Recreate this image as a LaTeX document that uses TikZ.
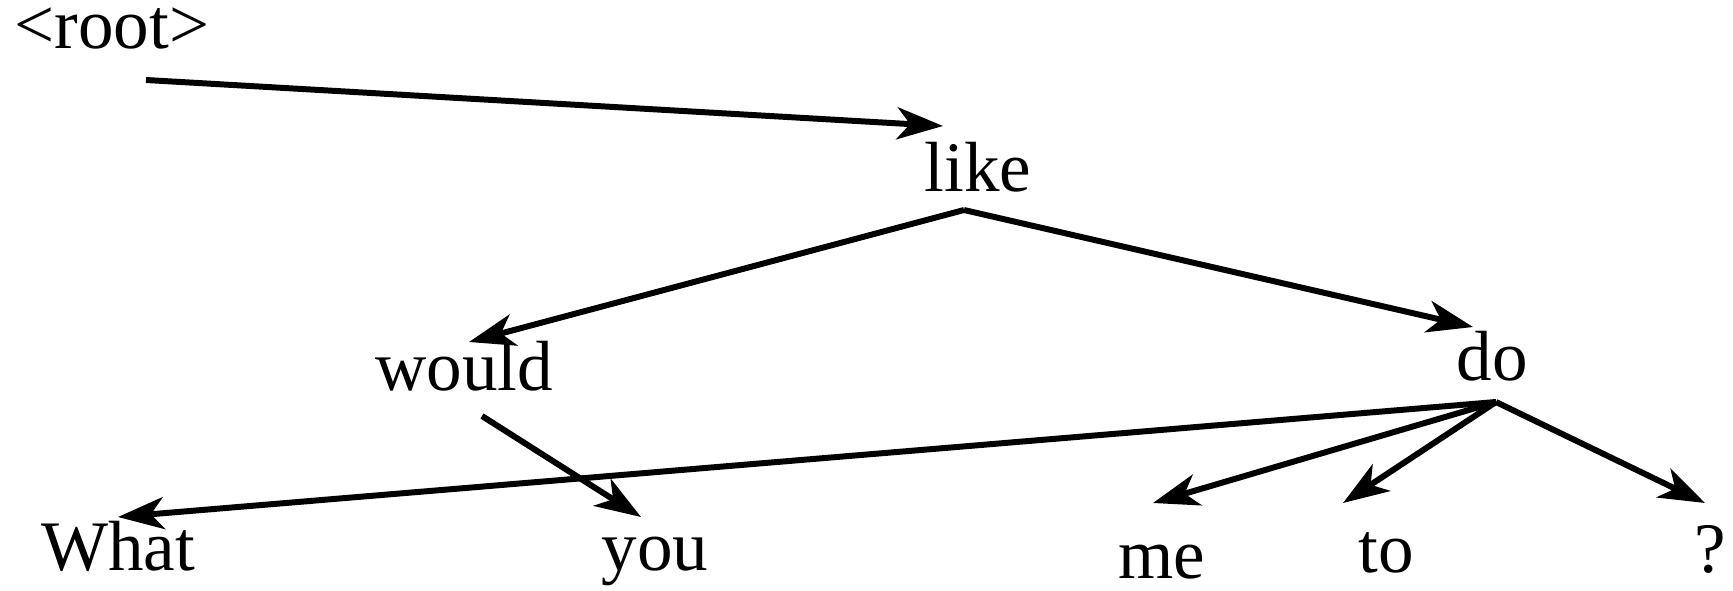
\documentclass[tikz,border=0pt]{standalone}
\usepackage{fontspec}
\setmainfont{Liberation Serif}
\usetikzlibrary{arrows.meta}
\begin{document}
\begin{tikzpicture}[x=0.01cm,y=-0.01cm,
  word/.style={anchor=base,inner sep=0pt,font=\fontsize{20.2}{22}\selectfont},
  dep/.style={line width=1.7pt,-{Stealth[length=0.46cm,width=0.32cm,inset=0.13cm]}}]
\useasboundingbox (0,0) rectangle (1733,591);
\node[word] (root) at (112,49) {<root>};
\node[word] (like) at (978,192) {like};
\node[word] (would) at (464,390) {would};
\node[word] (do) at (1492,380) {do};
\node[word] (what) at (118,570) {What};
\node[word] (you) at (655,570) {you};
\node[word] (me) at (1162,578) {me};
\node[word] (to) at (1386,572) {to};
\node[word] (q) at (1710,572) {?};
% connector ends
\coordinate (root-out) at (146,80);
\coordinate (like-in) at (943,126);
\coordinate (like-out) at (964,210);
\coordinate (would-in) at (469,342);
\coordinate (would-out) at (482,416);
\coordinate (do-in) at (1473,327);
\coordinate (do-out) at (1496,402);
\coordinate (what-in) at (118,517);
\coordinate (you-in) at (641,517);
\coordinate (me-in) at (1153,503);
\coordinate (to-in) at (1343,503);
\coordinate (q-in) at (1705,503);
\draw[dep] (root-out) -- (like-in);
\draw[dep] (like-out) -- (would-in);
\draw[dep] (like-out) -- (do-in);
\draw[dep] (would-out) -- (you-in);
\draw[dep] (do-out) -- (what-in);
\draw[dep] (do-out) -- (me-in);
\draw[dep] (do-out) -- (to-in);
\draw[dep] (do-out) -- (q-in);
\end{tikzpicture}
\end{document}
